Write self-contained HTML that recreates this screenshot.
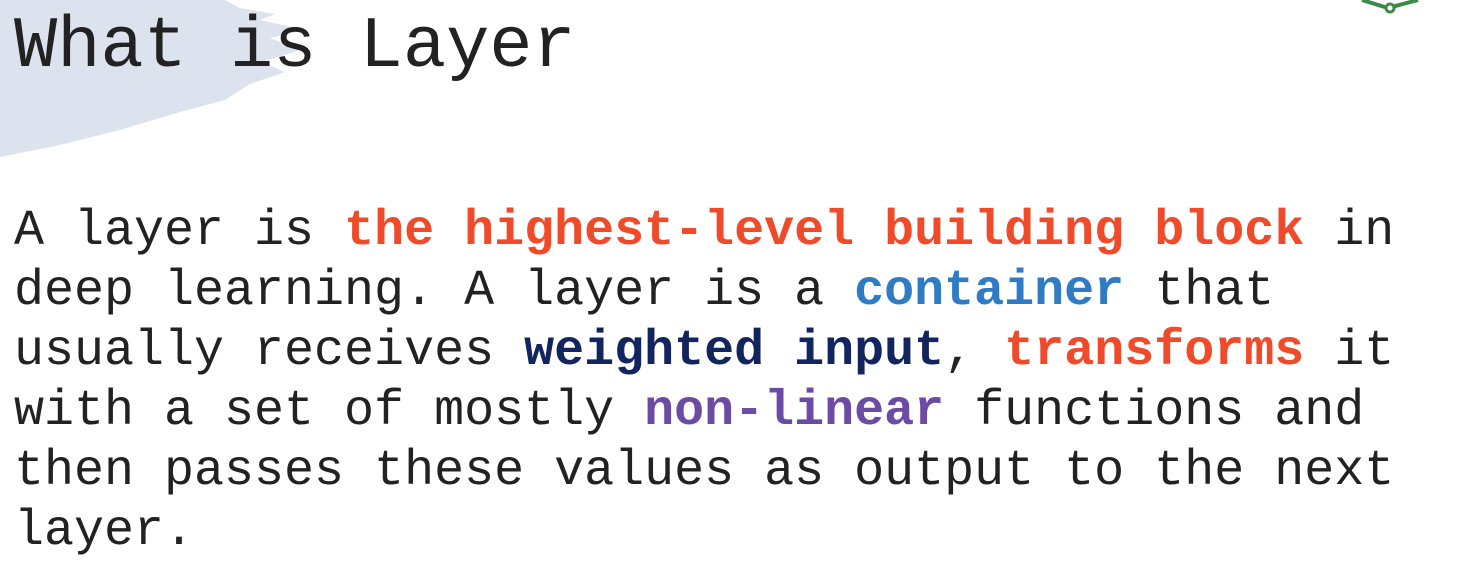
<!DOCTYPE html>
<html><head><meta charset="utf-8"><style>
html,body{margin:0;padding:0;width:1480px;height:573px;background:#fff;overflow:hidden;position:relative}
.t{position:absolute;left:14px;font-family:"Liberation Mono",monospace;color:#222;white-space:pre;line-height:1}
.title{font-size:72px;top:11px}
.body{font-size:50px;top:202px;line-height:60px}
b{font-weight:bold}
.r{color:#ef4b2b}.bl{color:#2f7bc4}.n{color:#13255e}.p{color:#6b4ba3}
</style></head><body>
<svg width="1480" height="573" style="position:absolute;left:0;top:0">
<path d="M0,0 L225,0 L240,8 L275,14 L260,20 L305,30 L270,38 L300,50 L262,62 L285,72 L250,84 L225,100 L180,112 L120,130 L60,145 L0,157 Z" fill="#dde3ee"/>
<path d="M1362,0 L1388,8 L1418,0" fill="none" stroke="#3c8a4a" stroke-width="4"/>
<circle cx="1390" cy="8" r="4" fill="#fff" stroke="#3c8a4a" stroke-width="3"/>
</svg>
<div class="t title">What is Layer</div>
<div class="t body">A layer is <b class="r">the highest-level building block</b> in
deep learning. A layer is a <b class="bl">container</b> that
usually receives <b class="n">weighted input</b>, <b class="r">transforms</b> it
with a set of mostly <b class="p">non-linear</b> functions and
then passes these values as output to the next
layer.</div>
</body></html>
